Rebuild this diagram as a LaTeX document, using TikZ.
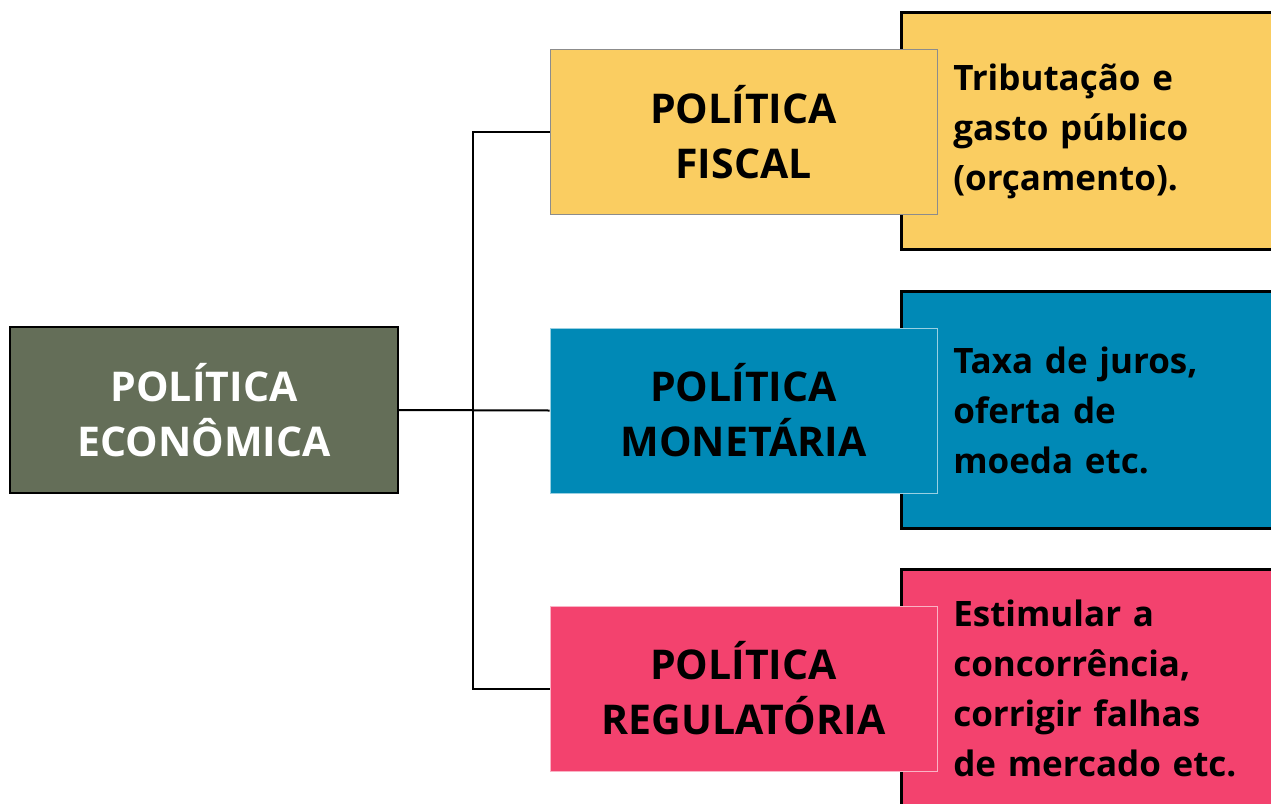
\documentclass[tikz,border=0pt]{standalone}
\usepackage{fontspec}
\setmainfont{Open Sans}
\usepackage{tikz}
\usetikzlibrary{positioning}
\definecolor{econgreen}{HTML}{646E58}
\definecolor{fiscalyellow}{HTML}{FACD61}
\definecolor{monetblue}{HTML}{0089B6}
\definecolor{regpink}{HTML}{F3426E}
\tikzstyle{mainbox} = [draw=black, line width=2pt, fill=econgreen, text=white, font=\bfseries\fontsize{41}{55}\selectfont, align=center, minimum width=388pt, minimum height=166pt]
\tikzstyle{polbox} = [line width=1pt, font=\bfseries\fontsize{41}{55}\selectfont, align=center, minimum width=387pt, minimum height=165pt]
\tikzstyle{descbox} = [draw=black, line width=2.5pt, anchor=west, minimum height=237pt, text width=330pt, inner xsep=52pt, align=left, font=\bfseries\fontsize{35}{50}\selectfont]

\begin{document}
\begin{tikzpicture}[x=1pt,y=-1pt]
	\useasboundingbox (0,0) rectangle (1271,803);
	% descriptions behind
	\node [descbox, fill=fiscalyellow] (fiscaldesc) at (900,131) {Tributação e\\gasto público\\(orçamento).};
	\node [descbox, fill=monetblue] (monetdesc) at (900,410) {Taxa de juros,\\oferta de\\moeda etc.};
	\node [descbox, fill=regpink] (regdesc) at (900,688) {Estimular a\\concorrência,\\corrigir falhas\\de mercado etc.};
	% policies
	\node [mainbox] (econ) at (204,410) {POLÍTICA\\ECONÔMICA};
	\node [polbox, fill=fiscalyellow, draw=black!45] (fiscal) at (743.5,132) {POLÍTICA\\FISCAL};
	\node [polbox, fill=monetblue, draw=monetblue!40] (monet) at (743.5,410.5) {POLÍTICA\\MONETÁRIA};
	\node [polbox, fill=regpink, draw=regpink!40] (reg) at (743.5,688.5) {POLÍTICA\\REGULATÓRIA};
	\coordinate (trunk) at (473,410.5);
	\draw [line width=2pt] (fiscal.west) -| (trunk) |- (reg.west);
	\draw [line width=2pt] (econ.east) -- (monet.west);
\end{tikzpicture}
\end{document}
